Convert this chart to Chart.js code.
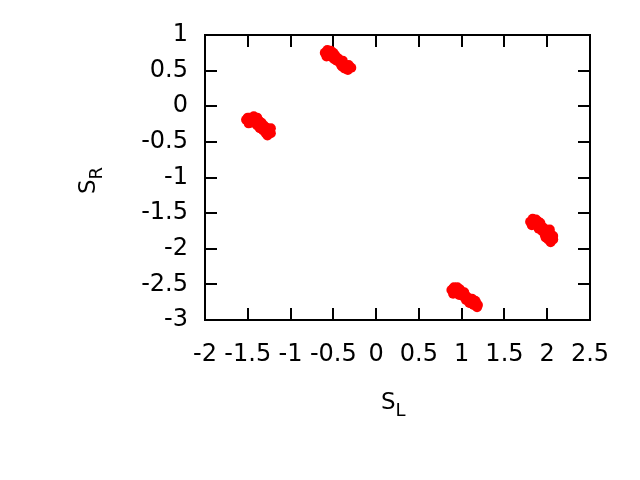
<!DOCTYPE html>
<html>
<head>
<meta charset="utf-8">
<script src="https://cdn.jsdelivr.net/npm/chart.js@4"></script>
<style>
  html, body { margin: 0; padding: 0; background: #fff; }
  canvas { display: block; }
</style>
</head>
<body>
<canvas id="chart" width="640" height="480"></canvas>
<script>
// DATA (S_L, S_R) per cluster
const clusterA = [[-1.52,-0.19],[-1.48,-0.16],[-1.43,-0.14],[-1.39,-0.16],[-1.37,-0.20],[-1.34,-0.23],[-1.31,-0.27],[-1.28,-0.30],[-1.25,-0.34],[-1.23,-0.38],[-1.29,-0.38],[-1.32,-0.34],[-1.46,-0.21],[-1.41,-0.24],[-1.36,-0.31],[-1.27,-0.41],[-1.23,-0.31],[-1.50,-0.16],[-1.44,-0.19],[-1.49,-0.24],[-1.39,-0.27],[-1.33,-0.30],[-1.47,-0.23],[-1.40,-0.20],[-1.34,-0.27],[-1.30,-0.31],[-1.26,-0.36]];
const clusterB = [[-0.60,0.75],[-0.57,0.79],[-0.53,0.78],[-0.50,0.75],[-0.54,0.71],[-0.47,0.69],[-0.44,0.67],[-0.42,0.62],[-0.38,0.60],[-0.35,0.57],[-0.31,0.55],[-0.29,0.54],[-0.37,0.53],[-0.33,0.51],[-0.46,0.64],[-0.51,0.72],[-0.56,0.74],[-0.40,0.56],[-0.58,0.70],[-0.49,0.66],[-0.41,0.58],[-0.58,0.72],[-0.52,0.69],[-0.48,0.72],[-0.44,0.63],[-0.39,0.64],[-0.35,0.53],[-0.32,0.58]];
const clusterC = [[0.88,-2.58],[0.91,-2.54],[0.95,-2.54],[0.98,-2.57],[0.94,-2.61],[1.01,-2.62],[1.04,-2.65],[1.07,-2.68],[1.10,-2.71],[1.14,-2.74],[1.17,-2.76],[1.19,-2.79],[1.18,-2.82],[1.14,-2.79],[1.09,-2.76],[1.02,-2.67],[0.92,-2.60],[1.12,-2.70],[0.97,-2.65],[1.05,-2.72],[0.90,-2.63],[0.90,-2.56],[0.96,-2.59],[1.00,-2.65],[1.03,-2.61],[1.06,-2.70],[1.12,-2.77],[1.16,-2.73]];
const clusterD = [[1.80,-1.62],[1.83,-1.58],[1.87,-1.59],[1.90,-1.62],[1.86,-1.66],[1.93,-1.68],[1.95,-1.70],[1.99,-1.73],[2.01,-1.76],[2.04,-1.79],[2.07,-1.82],[2.07,-1.87],[2.04,-1.91],[2.01,-1.87],[1.97,-1.80],[1.94,-1.75],[1.84,-1.63],[2.02,-1.83],[1.82,-1.67],[1.90,-1.72],[1.98,-1.84],[1.85,-1.60],[1.89,-1.66],[1.92,-1.64],[1.96,-1.76],[1.99,-1.78],[2.05,-1.85],[2.03,-1.73]];

const xTicks = [-2, -1.5, -1, -0.5, 0, 0.5, 1, 1.5, 2, 2.5];
const yTicks = [-3, -2.5, -2, -1.5, -1, -0.5, 0, 0.5, 1];

const FONT = 'DejaVu Sans';
const TICK_LEN = 12;

// gnuplot-like border with inward (mirrored) ticks
const frameTicks = {
  id: 'frameTicks',
  beforeDatasetsDraw: (chart) => {
    const { ctx, chartArea: a, scales: { x, y } } = chart;
    ctx.save();
    ctx.strokeStyle = '#000';
    ctx.lineWidth = 2;
    ctx.beginPath();
    xTicks.forEach(v => {
      const px = Math.round(x.getPixelForValue(v));
      ctx.moveTo(px, a.bottom); ctx.lineTo(px, a.bottom - TICK_LEN);
      ctx.moveTo(px, a.top);    ctx.lineTo(px, a.top + TICK_LEN);
    });
    yTicks.forEach(v => {
      const py = Math.round(y.getPixelForValue(v));
      ctx.moveTo(a.left, py);  ctx.lineTo(a.left + TICK_LEN, py);
      ctx.moveTo(a.right, py); ctx.lineTo(a.right - TICK_LEN, py);
    });
    ctx.stroke();
    ctx.strokeRect(a.left, a.top, a.right - a.left, a.bottom - a.top);
    ctx.restore();
  }
};

// axis titles with subscripts
const axisTitles = {
  id: 'axisTitles',
  afterDraw: (chart) => {
    const { ctx } = chart;
    ctx.save();
    ctx.fillStyle = '#000';
    ctx.textAlign = 'left';
    ctx.textBaseline = 'alphabetic';

    ctx.font = `23px "${FONT}"`;
    const sw = ctx.measureText('S').width;
    ctx.fillText('S', 381, 409);
    ctx.font = `18px "${FONT}"`;
    ctx.fillText('L', 381 + sw, 416);

    ctx.translate(95, 194);
    ctx.rotate(-Math.PI / 2);
    ctx.font = `23px "${FONT}"`;
    ctx.fillText('S', 0, 0);
    ctx.font = `18px "${FONT}"`;
    ctx.fillText('R', sw, 7);
    ctx.restore();
  }
};

const toPts = arr => arr.map(p => ({ x: p[0], y: p[1] }));
const mkSet = arr => ({
  data: toPts(arr),
  pointRadius: 5,
  pointHoverRadius: 5,
  pointBackgroundColor: '#ff0000',
  pointBorderWidth: 0,
  showLine: false
});

const ctx = document.getElementById('chart').getContext('2d');
new Chart(ctx, {
  type: 'scatter',
  data: { datasets: [clusterA, clusterB, clusterC, clusterD].map(mkSet) },
  plugins: [frameTicks, axisTitles],
  options: {
    responsive: false,
    animation: false,
    layout: { padding: { left: 0, top: 35, right: 50, bottom: 100 } },
    plugins: { legend: { display: false }, tooltip: { enabled: false } },
    scales: {
      x: {
        type: 'linear',
        min: -2, max: 2.5,
        afterBuildTicks: s => { s.ticks = xTicks.map(v => ({ value: v })); },
        afterFit: s => { s.height = 60; },
        grid: { display: false, drawTicks: false },
        border: { display: false },
        ticks: {
          callback: v => String(v),
          autoSkip: false, maxRotation: 0,
          color: '#000', padding: 20,
          font: { family: FONT, size: 24 }
        }
      },
      y: {
        type: 'linear',
        min: -3, max: 1,
        afterBuildTicks: s => { s.ticks = yTicks.map(v => ({ value: v })); },
        afterFit: s => { s.width = 205; },
        grid: { display: false, drawTicks: false },
        border: { display: false },
        ticks: {
          callback: v => String(v),
          autoSkip: false,
          color: '#000', padding: 17,
          font: { family: FONT, size: 24 }
        }
      }
    }
  }
});
</script>
</body>
</html>
